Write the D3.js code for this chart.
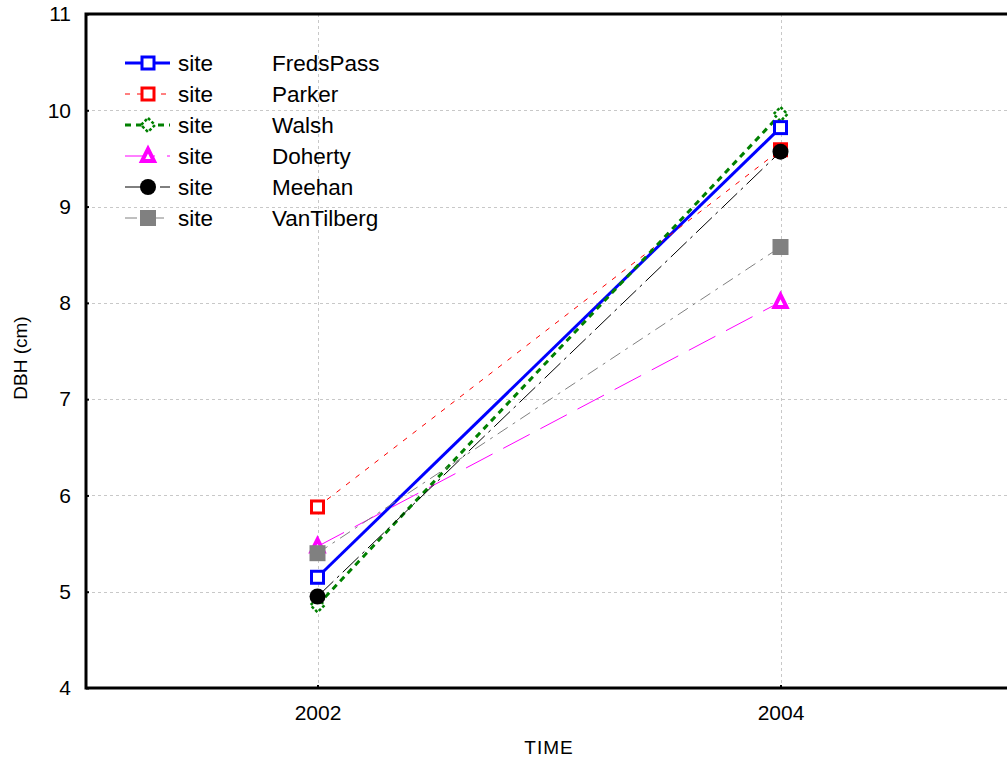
<!DOCTYPE html>
<html>
<head>
<meta charset="utf-8">
<script src="https://cdn.jsdelivr.net/npm/d3@7/dist/d3.min.js"></script>
<style>
  html, body { margin: 0; padding: 0; background: #fff; }
  svg { display: block; font-family: "Liberation Sans", Arial, sans-serif; }
</style>
</head>
<body>
<svg id="chart" width="1007" height="758"></svg>
<script>
// Mean DBH per site, measured in 2002 and 2004
const years = [2002, 2004];
const sites = ["FredsPass", "Parker", "Walsh", "Doherty", "Meehan", "VanTilberg"];
const fredsPass  = [5.15, 9.82];
const parker     = [5.88, 9.59];
const walsh      = [4.86, 9.96];
const doherty    = [5.47, 8.01];
const meehan     = [4.95, 9.57];
const vanTilberg = [5.40, 8.58];
const yTicks = [4, 5, 6, 7, 8, 9, 10, 11];

const seriesValues = [fredsPass, parker, walsh, doherty, meehan, vanTilberg];

const styles = [
  { color: "#0000ff", width: 3,   dash: null,          marker: "square",   fill: "#fff" },
  { color: "#ff0000", width: 1,   dash: "5,7",         marker: "square",   fill: "#fff" },
  { color: "#008000", width: 3,   dash: "6,5",         marker: "diamond",  fill: "#fff" },
  { color: "#ff00ff", width: 1,   dash: "30,12",       marker: "triangle", fill: "#fff" },
  { color: "#000000", width: 1,   dash: "22,5,3,5",    marker: "circle",   fill: "#000" },
  { color: "#808080", width: 1,   dash: "12,6,3,6",    marker: "square",   fill: "#808080" }
];

const svg = d3.select("#chart");
const plotLeft = 86, plotTop = 14, plotBottom = 688, plotRight = 1012;

const x = d3.scaleLinear().domain([2001, 2005]).range([plotLeft, plotRight]);
const y = d3.scaleLinear().domain([4, 11]).range([plotBottom, plotTop]);

// grid
const grid = svg.append("g").attr("stroke", "#c8c8c8").attr("stroke-width", 1).attr("stroke-dasharray", "3,3");
yTicks.slice(1, -1).forEach(t => {
  grid.append("line").attr("x1", plotLeft).attr("x2", plotRight)
    .attr("y1", Math.round(y(t)) + 0.5).attr("y2", Math.round(y(t)) + 0.5);
});
years.forEach(t => {
  grid.append("line").attr("x1", Math.round(x(t)) + 0.5).attr("x2", Math.round(x(t)) + 0.5)
    .attr("y1", plotTop).attr("y2", plotBottom);
});

// axes
const yAxis = d3.axisLeft(y).tickValues(yTicks).tickSize(-3).tickPadding(15).tickFormat(d3.format("d"));
const gy = svg.append("g").attr("transform", `translate(${plotLeft},0)`).call(yAxis);
gy.select(".domain").remove();
gy.selectAll(".tick line").attr("stroke", "#000").attr("stroke-width", 2);
gy.selectAll("text").attr("font-size", 21).attr("fill", "#000");

const xAxis = d3.axisBottom(x).tickValues(years).tickSize(-3).tickPadding(17).tickFormat(d3.format("d"));
const gx = svg.append("g").attr("transform", `translate(0,${plotBottom})`).call(xAxis);
gx.select(".domain").remove();
gx.selectAll(".tick line").attr("stroke", "#000").attr("stroke-width", 2);
gx.selectAll("text").attr("font-size", 21).attr("fill", "#000");

// frame
svg.append("rect").attr("x", plotLeft).attr("y", plotTop)
  .attr("width", plotRight - plotLeft).attr("height", plotBottom - plotTop)
  .attr("fill", "none").attr("stroke", "#000").attr("stroke-width", 3);

// axis titles
svg.append("text").attr("x", x(2003)).attr("y", 754).attr("text-anchor", "middle")
  .attr("font-size", 19).attr("letter-spacing", 1).text("TIME");
svg.append("text").attr("transform", `translate(27,${(plotTop + plotBottom) / 2 + 7}) rotate(-90)`)
  .attr("text-anchor", "middle").attr("font-size", 19).text("DBH (cm)");

function drawMarker(g, s, cx, cy) {
  const sw = 3;
  if (s.marker === "square") {
    if (s.fill === "#fff") {
      g.append("rect").attr("x", cx - 6).attr("y", cy - 6).attr("width", 12).attr("height", 12)
        .attr("fill", "#fff").attr("stroke", s.color).attr("stroke-width", sw);
    } else {
      g.append("rect").attr("x", cx - 8).attr("y", cy - 8).attr("width", 16).attr("height", 16)
        .attr("fill", s.fill);
    }
  } else if (s.marker === "diamond") {
    const r = 7;
    g.append("path").attr("d", `M${cx},${cy - r}L${cx + r},${cy}L${cx},${cy + r}L${cx - r},${cy}Z`)
      .attr("fill", "#fff").attr("stroke", s.color).attr("stroke-width", 2.5).attr("stroke-dasharray", "3,2");
  } else if (s.marker === "triangle") {
    const r = 6;
    g.append("path").attr("d", `M${cx},${cy - r - 1}L${cx + r},${cy + r - 1}L${cx - r},${cy + r - 1}Z`)
      .attr("fill", "#fff").attr("stroke", s.color).attr("stroke-width", 4).attr("stroke-linejoin", "miter");
  } else if (s.marker === "circle") {
    g.append("circle").attr("cx", cx).attr("cy", cy).attr("r", 8).attr("fill", s.fill);
  }
}

// series lines
const line = d3.line().x((d, i) => x(years[i])).y(d => y(d));
const plot = svg.append("g");
seriesValues.forEach((vals, k) => {
  const s = styles[k];
  plot.append("path").datum(vals).attr("d", line).attr("fill", "none")
    .attr("stroke", s.color).attr("stroke-width", s.width)
    .attr("stroke-dasharray", s.dash);
});
// marker stacking order
const markerOrder = [1, 3, 5, 2, 4, 0];
markerOrder.forEach(k => {
  const g = plot.append("g");
  seriesValues[k].forEach((v, i) => drawMarker(g, styles[k], x(years[i]), y(v)));
});

// legend
const legend = svg.append("g");
sites.forEach((name, k) => {
  const s = styles[k];
  const ly = 63 + k * 31;
  const g = legend.append("g");
  g.append("line").attr("x1", 125).attr("x2", 170).attr("y1", ly).attr("y2", ly)
    .attr("stroke", s.color).attr("stroke-width", s.width)
    .attr("stroke-dasharray", s.dash);
  drawMarker(g, s, 148, ly);
  g.append("text").attr("x", 178).attr("y", ly + 8).attr("font-size", 22.5).text("site");
  g.append("text").attr("x", 272).attr("y", ly + 8).attr("font-size", 22.5).text(name);
});
</script>
</body>
</html>
